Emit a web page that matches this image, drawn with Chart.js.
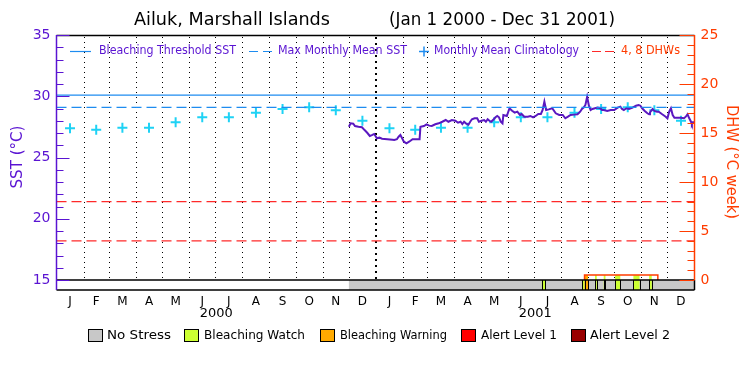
<!DOCTYPE html>
<html><head><meta charset="utf-8">
<script src="https://cdn.jsdelivr.net/npm/chart.js@4"></script>
<style>html,body{margin:0;padding:0;background:#fff}#wrap{width:750px;height:375px}</style>
</head><body><div id="wrap"><canvas id="c" width="750" height="375"></canvas></div>
<script>
// ---------- data ----------
const titleLeft = 'Ailuk, Marshall Islands';
const titleRight = '(Jan 1 2000 - Dec 31 2001)';
const monthLetters = ['J','F','M','A','M','J','J','A','S','O','N','D'];
const years = [2000, 2001];
const climatology = [27.38,27.27,27.43,27.43,27.87,28.28,28.28,28.66,28.96,29.10,28.85,28.00];
const bleachingThreshold = 30.1;
const maxMonthlyMean = 29.1;
const dhwLevels = [4, 8];
const sstTicks = [15,20,25,30,35];
const dhwTicks = [0,5,10,15,20,25];
// SST series: days since 2000-01-01, value in deg C
const sstDay = [335,337,340,342,346,350,353,356,359,362,364,366,367,370,373,379,385,387,390,392,394,396,398,401,404,408,416,417,421,424,427,430,434,438,442,446,449,453,457,460,463,465,467,469,472,474,476,479,482,484,487,490,492,494,496,498,501,503,505,507,509,511,512,516,519,522,525,528,531,533,536,540,543,546,549,552,555,557,559,561,564,568,572,576,580,583,586,589,593,597,600,602,604,606,608,610,612,614,617,620,623,625,627,631,635,639,643,646,648,650,653,656,660,664,667,669,671,674,677,679,680,683,685,688,690,694,698,700,702,704,706,708,711,715,719,721,723,725,727,728,729,731];
const sstValues = [27.51,27.79,27.76,27.57,27.51,27.47,27.24,27.02,26.76,26.84,26.92,26.70,26.57,26.62,26.53,26.49,26.45,26.43,26.49,26.70,26.84,26.57,26.29,26.16,26.29,26.49,26.49,27.51,27.57,27.71,27.60,27.57,27.71,27.79,27.92,28.06,27.92,28.06,28.00,27.84,27.92,27.73,27.92,27.79,27.68,27.92,28.12,28.20,28.20,27.92,28.00,28.06,27.92,28.12,28.00,27.92,28.12,28.28,28.39,28.28,27.92,27.79,28.47,28.39,29.02,28.82,28.66,28.74,28.47,28.55,28.33,28.33,28.39,28.28,28.39,28.55,28.55,28.88,29.56,28.88,28.93,29.02,28.61,28.47,28.47,28.20,28.33,28.47,28.50,28.53,28.74,28.96,29.07,29.29,29.96,29.23,28.88,28.96,29.02,29.07,29.02,28.88,28.88,28.80,28.88,28.88,29.07,29.15,28.96,28.88,29.02,28.96,29.07,29.23,29.29,29.23,29.02,28.80,28.61,28.53,28.69,28.96,28.80,28.74,28.74,28.53,28.33,28.20,28.74,29.02,28.47,28.25,28.25,28.25,28.20,28.33,28.53,28.20,27.92,27.71,27.87,27.87];
// Degree heating weeks (right axis)
const dhwDates = ['2001-08-28','2001-08-28','2001-11-20','2001-11-20'];
const dhwValues = [0, 0.5, 0.5, 0];
// Stress level bar: 0 no stress, 1 watch, 2 warning, 3 alert 1, 4 alert 2
const stressStart = ['2000-12-01','2001-07-10','2001-08-25','2001-08-28','2001-09-09','2001-09-19','2001-10-02','2001-10-23','2001-11-10'];
const stressEnd   = ['2002-01-01','2001-07-14','2001-08-28','2001-09-01','2001-09-11','2001-09-21','2001-10-08','2001-10-30','2001-11-13'];
const stressLevel = [0,1,1,2,1,1,1,1,1];
const stressNames = ['No Stress','Bleaching Watch','Bleaching Warning','Alert Level 1','Alert Level 2'];

// ---------- styles ----------
const stressColors = ['#c8c8c8','#ccff33','#ffaa00','#ff0000','#990000'];
const PURPLE = '#5a14d2', ORANGE = '#ff3c00', BLUE = '#1e8cf0', CYAN = '#1ed2f5', RED = '#ff2a2a', LINEP = '#5a18c0';
const FONT = '"DejaVu Sans", sans-serif';

const DAY0 = Date.UTC(2000,0,1);
const dayOf = s => (Date.parse(s + 'T00:00:00Z') - DAY0) / 86400000;
const totalDays = (Date.UTC(2002,0,1) - DAY0) / 86400000;
const monthStarts = [], monthMids = [];
years.forEach(y => { for (let m = 0; m < 12; m++) {
  const a = (Date.UTC(y,m,1)-DAY0)/86400000, b = (Date.UTC(y,m+1,1)-DAY0)/86400000;
  monthStarts.push(a); monthMids.push((a+b)/2);
}});
const climPts = monthMids.map((d,i) => ({x:d, y:climatology[i%12]}));
const sstPts = sstDay.map((d,i) => ({x:d, y:sstValues[i]}));
const dhwPts = dhwDates.map((d,i) => ({x:dayOf(d), y:dhwValues[i]}));
const hline = v => [{x:0,y:v},{x:totalDays,y:v}];

const SST_MIN = 35 - 255/12.25, DHW_MIN = -10/9.8;

function fitText(c, txt, x, y, w, font, color, align) {
  c.save(); c.font = font; c.fillStyle = color; c.textBaseline = 'middle'; c.textAlign = 'left';
  const m = c.measureText(txt).width; const s = w / m;
  const x0 = align === 'center' ? x - w/2 : x;
  c.translate(x0, y); c.scale(s, 1); c.fillText(txt, 0, 0); c.restore();
}
function dhwAt(day) {
  let v = 0;
  for (let i = 0; i < dhwPts.length; i++) if (dhwPts[i].x <= day) v = dhwPts[i].y;
  return v;
}

const decor = {
  id: 'decor',
  beforeDatasetsDraw(chart) {
    const c = chart.ctx, a = chart.chartArea, X = chart.scales.x, Y = chart.scales.y, Y2 = chart.scales.y2;
    const y15 = Y.getPixelForValue(15);
    // month dotted lines
    c.save();
    monthStarts.forEach((d, i) => {
      if (d === 0) return;
      const px = Math.round(X.getPixelForValue(d));
      const thick = (i % 12) === 0;
      c.beginPath(); c.strokeStyle = '#000'; c.lineWidth = thick ? 2 : 1;
      c.setLineDash(thick ? [2,4] : [1,4]);
      c.moveTo(px + (thick?0:0.5), a.top + 2); c.lineTo(px + (thick?0:0.5), y15); c.stroke();
    });
    c.setLineDash([]);
    // stress band
    const bandTop = y15, bandBot = a.bottom;
    stressStart.forEach((s, i) => {
      const d0 = dayOf(s), d1 = dayOf(stressEnd[i]);
      const x0 = X.getPixelForValue(d0), x1 = X.getPixelForValue(d1);
      let top = bandTop;
      const dv = dhwAt(d0 + 0.01);
      if (stressLevel[i] > 0 && dv > 0) top = Y2.getPixelForValue(dv);
      c.fillStyle = stressColors[stressLevel[i]];
      c.fillRect(x0, top, x1 - x0, bandBot - top);
      if (stressLevel[i] > 0) {
        c.strokeStyle = '#000'; c.lineWidth = 1;
        c.beginPath();
        c.moveTo(Math.round(x0)+0.5, bandTop); c.lineTo(Math.round(x0)+0.5, bandBot);
        c.moveTo(Math.round(x1)+0.5, bandTop); c.lineTo(Math.round(x1)+0.5, bandBot);
        c.stroke();
      }
    });
    c.restore();
  },
  afterDatasetsDraw(chart) {
    const c = chart.ctx, a = chart.chartArea, X = chart.scales.x, Y = chart.scales.y, Y2 = chart.scales.y2;
    const y15 = Y.getPixelForValue(15);
    c.save();
    // frame lines
    c.strokeStyle = '#000'; c.lineWidth = 1.5;
    c.beginPath();
    c.moveTo(a.left, a.top + 0.5); c.lineTo(a.right, a.top + 0.5);
    c.moveTo(a.left, Math.round(y15)); c.lineTo(a.right, Math.round(y15));
    c.moveTo(a.left, a.bottom); c.lineTo(a.right, a.bottom);
    c.moveTo(a.right, y15); c.lineTo(a.right, a.bottom);
    c.stroke();
    // left axis
    c.strokeStyle = PURPLE; c.lineWidth = 1.5;
    c.beginPath(); c.moveTo(a.left, a.top); c.lineTo(a.left, a.bottom); c.stroke();
    c.lineWidth = 1;
    for (let v = 15; v <= 35; v++) {
      const py = Math.round(Y.getPixelForValue(v)) + 0.5;
      const len = v % 5 === 0 ? 13 : 7;
      c.beginPath(); c.moveTo(a.left, py); c.lineTo(a.left + len, py); c.stroke();
    }
    // right axis
    c.strokeStyle = ORANGE; c.lineWidth = 1.5;
    c.beginPath(); c.moveTo(a.right, a.top); c.lineTo(a.right, y15); c.stroke();
    c.lineWidth = 1;
    for (let v = 0; v <= 25; v++) {
      const py = Math.round(Y2.getPixelForValue(v)) + 0.5;
      const len = v % 5 === 0 ? 15 : 7;
      c.beginPath(); c.moveTo(a.right, py); c.lineTo(a.right - len, py); c.stroke();
    }
    // title
    fitText(c, titleLeft, 134, 21, 196, '17px ' + FONT, '#000');
    fitText(c, titleRight, 389, 21, 226, '17px ' + FONT, '#000');
    // top legend
    const ly = 51;
    c.lineWidth = 1.2; c.strokeStyle = BLUE;
    c.beginPath(); c.moveTo(70, ly + 0.5); c.lineTo(91, ly + 0.5); c.stroke();
    fitText(c, 'Bleaching Threshold SST', 99, ly, 137, '12px ' + FONT, PURPLE);
    c.beginPath(); c.moveTo(249, ly + 0.5); c.lineTo(258, ly + 0.5); c.moveTo(263, ly + 0.5); c.lineTo(272, ly + 0.5); c.stroke();
    fitText(c, 'Max Monthly Mean SST', 278, ly, 129, '12px ' + FONT, PURPLE);
    c.lineWidth = 1.5;
    c.beginPath(); c.moveTo(419, ly + 0.5); c.lineTo(429, ly + 0.5); c.moveTo(424, ly - 4.5); c.lineTo(424, ly + 5.5); c.stroke();
    fitText(c, 'Monthly Mean Climatology', 434, ly, 145, '12px ' + FONT, PURPLE);
    c.strokeStyle = RED; c.lineWidth = 1.2;
    c.beginPath(); c.moveTo(592, ly + 0.5); c.lineTo(601, ly + 0.5); c.moveTo(605, ly + 0.5); c.lineTo(614, ly + 0.5); c.stroke();
    fitText(c, '4, 8 DHWs', 621, ly, 59, '12px ' + FONT, ORANGE);
    // axis titles
    c.save(); c.translate(18, 157); c.rotate(-Math.PI/2);
    fitText(c, 'SST (°C)', 0, 0, 63, '16px ' + FONT, PURPLE, 'center'); c.restore();
    c.save(); c.translate(731, 162); c.rotate(Math.PI/2);
    fitText(c, 'DHW (°C week)', 0, 0, 114, '16px ' + FONT, ORANGE, 'center'); c.restore();
    // year labels
    years.forEach((yr, i) => {
      const mid = (monthStarts[i*12] + (i*12+12 < monthStarts.length ? monthStarts[i*12+12] : totalDays)) / 2;
      fitText(c, String(yr), X.getPixelForValue(mid), 314, 33, '13px ' + FONT, '#000', 'center');
    });
    // bottom legend
    const bx = [88, 184, 320, 461, 571], tx = [107, 204, 340, 481, 590], tw = [64, 101, 107, 76, 80];
    stressNames.forEach((n, i) => {
      c.fillStyle = stressColors[i]; c.fillRect(bx[i], 329, 14, 12);
      c.strokeStyle = '#000'; c.lineWidth = 1; c.strokeRect(bx[i] + 0.5, 329.5, 14, 12);
      fitText(c, n, tx[i], 336, tw[i], '12px ' + FONT, '#000');
    });
    c.restore();
  }
};

new Chart(document.getElementById('c'), {
  type: 'line',
  data: {
    datasets: [
      {data: hline(bleachingThreshold), borderColor: BLUE, borderWidth: 1.2, pointRadius: 0, yAxisID: 'y'},
      {data: hline(maxMonthlyMean), borderColor: BLUE, borderWidth: 1.2, borderDash: [10,5], pointRadius: 0, yAxisID: 'y'},
      {data: hline(dhwLevels[0]), borderColor: RED, borderWidth: 1.2, borderDash: [10,5], pointRadius: 0, yAxisID: 'y2'},
      {data: hline(dhwLevels[1]), borderColor: RED, borderWidth: 1.2, borderDash: [10,5], pointRadius: 0, yAxisID: 'y2'},
      {data: dhwPts, borderColor: ORANGE, borderWidth: 1.5, pointRadius: 0, yAxisID: 'y2'},
      {data: sstPts, borderColor: LINEP, borderWidth: 2, pointRadius: 0, tension: 0, yAxisID: 'y'},
      {data: climPts, showLine: false, pointStyle: 'cross', pointRadius: 5, borderColor: CYAN, borderWidth: 2, yAxisID: 'y'}
    ]
  },
  options: {
    responsive: false, animation: false, devicePixelRatio: 1,
    layout: {padding: {top: 35, left: 0, right: 0, bottom: 0}},
    plugins: {legend: {display: false}, tooltip: {enabled: false}, title: {display: false}},
    scales: {
      x: {type: 'linear', position: 'bottom', min: 0, max: totalDays,
          grid: {display: false, drawTicks: false}, border: {display: false},
          afterBuildTicks: s => { s.ticks = monthMids.map(v => ({value: v})); },
          afterFit: s => { s.height = 85; },
          ticks: {autoSkip: false, maxRotation: 0, padding: 5, color: '#000', font: {family: FONT, size: 12},
                  callback: (v, i) => monthLetters[i % 12]}},
      y: {type: 'linear', position: 'left', min: SST_MIN, max: 35,
          grid: {display: false, drawTicks: false}, border: {display: false},
          afterBuildTicks: s => { s.ticks = sstTicks.map(v => ({value: v})); },
          afterFit: s => { s.width = 56.5; },
          ticks: {autoSkip: false, padding: 6, color: PURPLE, font: {family: FONT, size: 14}}},
      y2: {type: 'linear', position: 'right', min: DHW_MIN, max: 25,
          grid: {display: false, drawTicks: false}, border: {display: false},
          afterBuildTicks: s => { s.ticks = dhwTicks.map(v => ({value: v})); },
          afterFit: s => { s.width = 55.5; },
          ticks: {autoSkip: false, padding: 6, color: ORANGE, font: {family: FONT, size: 14}}}
    }
  },
  plugins: [decor]
});
</script></body></html>
